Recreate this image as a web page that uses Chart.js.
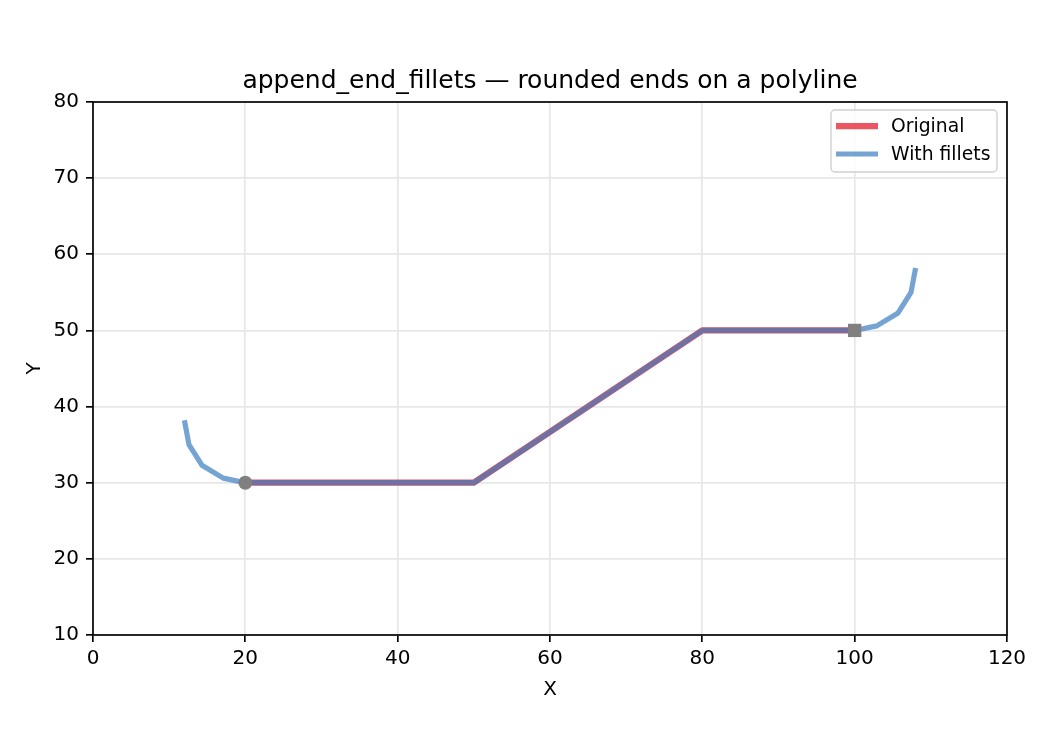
<!DOCTYPE html>
<html>
<head>
<meta charset="utf-8">
<script src="https://cdn.jsdelivr.net/npm/chart.js@4/dist/chart.umd.min.js"></script>
<style>
  html, body { margin: 0; padding: 0; background: #fff; }
  #wrap { width: 1050px; height: 750px; position: relative; }
</style>
</head>
<body>
<div id="wrap"><canvas id="c" width="1050" height="750"></canvas></div>
<script>
// ---- data ----
const originalX = [20, 50, 80, 100];
const originalY = [30, 30, 50, 50];
const filletX = [12, 12.6, 14.3, 17.1, 20, 50, 80, 100, 102.9, 105.7, 107.4, 108];
const filletY = [38.2, 35, 32.3, 30.6, 30, 30, 50, 50, 50.6, 52.3, 55, 58.2];
const startPoint = [20, 30];
const endPoint = [100, 50];
const xTicks = [0, 20, 40, 60, 80, 100, 120];
const yTicks = [10, 20, 30, 40, 50, 60, 70, 80];
const titleText = 'append_end_fillets — rounded ends on a polyline';
const xLabel = 'X';
const yLabel = 'Y';
const seriesNames = ['Original', 'With fillets'];

const RED = 'rgba(230,57,70,0.85)';
const BLUE = 'rgba(58,126,191,0.7)';
const FONT = 'DejaVu Sans';
const TICK_FONT = 20;

const toPts = (xs, ys) => xs.map((x, i) => ({ x: x, y: ys[i] }));

const framePlugin = {
  id: 'frame',
  afterDraw(chart) {
    const { ctx, chartArea: a } = chart;
    ctx.save();
    // frame
    ctx.strokeStyle = '#000';
    ctx.lineWidth = 1.67;
    ctx.strokeRect(a.left, a.top, a.right - a.left, a.bottom - a.top);
    // title
    ctx.fillStyle = '#000';
    ctx.font = '25px "' + FONT + '"';
    ctx.textAlign = 'center';
    ctx.textBaseline = 'alphabetic';
    ctx.fillText(titleText, (a.left + a.right) / 2, 88);
    // axis titles
    ctx.font = TICK_FONT + 'px "' + FONT + '"';
    ctx.fillText(xLabel, (a.left + a.right) / 2, 695);
    ctx.save();
    ctx.translate(40, (a.top + a.bottom) / 2);
    ctx.rotate(-Math.PI / 2);
    ctx.fillText(yLabel, 0, 0);
    ctx.restore();
    // legend
    const lx = 831, ly = 110, lw = 166, lh = 62, r = 4;
    ctx.beginPath();
    ctx.moveTo(lx + r, ly);
    ctx.arcTo(lx + lw, ly, lx + lw, ly + lh, r);
    ctx.arcTo(lx + lw, ly + lh, lx, ly + lh, r);
    ctx.arcTo(lx, ly + lh, lx, ly, r);
    ctx.arcTo(lx, ly, lx + lw, ly, r);
    ctx.closePath();
    ctx.fillStyle = 'rgba(255,255,255,0.8)';
    ctx.fill();
    ctx.strokeStyle = '#d0d0d0';
    ctx.lineWidth = 1.4;
    ctx.stroke();
    const rows = [
      { name: seriesNames[0], color: RED, w: 6.25, y: 126 },
      { name: seriesNames[1], color: BLUE, w: 5.2, y: 154 }
    ];
    ctx.font = '18.75px "' + FONT + '"';
    ctx.textAlign = 'left';
    ctx.textBaseline = 'middle';
    rows.forEach(rw => {
      ctx.strokeStyle = rw.color;
      ctx.lineWidth = rw.w;
      ctx.beginPath();
      ctx.moveTo(836, rw.y);
      ctx.lineTo(878, rw.y);
      ctx.stroke();
      ctx.fillStyle = '#000';
      ctx.fillText(rw.name, 891, rw.y + 1);
    });
    ctx.restore();
  }
};

new Chart(document.getElementById('c'), {
  type: 'scatter',
  data: {
    datasets: [
      {
        label: 'markers-start',
        data: [{ x: startPoint[0], y: startPoint[1] }],
        pointStyle: 'circle',
        pointRadius: 7,
        backgroundColor: '#808080',
        borderColor: '#808080',
        borderWidth: 0,
        showLine: false,
        order: 0
      },
      {
        label: 'markers-end',
        data: [{ x: endPoint[0], y: endPoint[1] }],
        pointStyle: 'rect',
        pointRadius: 9.4,
        backgroundColor: '#808080',
        borderColor: '#808080',
        borderWidth: 0,
        showLine: false,
        order: 0
      },
      {
        label: seriesNames[1],
        data: toPts(filletX, filletY),
        showLine: true,
        borderColor: BLUE,
        borderWidth: 5.2,
        pointRadius: 0,
        tension: 0,
        borderJoinStyle: 'round',
        order: 1
      },
      {
        label: seriesNames[0],
        data: toPts(originalX, originalY),
        showLine: true,
        borderColor: RED,
        borderWidth: 6.25,
        pointRadius: 0,
        tension: 0,
        borderJoinStyle: 'round',
        order: 2
      }
    ]
  },
  options: {
    responsive: false,
    animation: false,
    devicePixelRatio: 1,
    layout: { padding: { left: 0, top: 102, right: 43, bottom: 0 } },
    plugins: {
      legend: { display: false },
      title: { display: false },
      tooltip: { enabled: false }
    },
    scales: {
      x: {
        type: 'linear',
        min: 0, max: 120,
        afterFit: s => { s.height = 115; },
        afterBuildTicks: s => { s.ticks = xTicks.map(v => ({ value: v })); },
        grid: { color: '#e7e7e7', lineWidth: 1.67, tickLength: 7, tickColor: '#000', tickWidth: 1.67, drawTicks: true },
        border: { display: false },
        ticks: { color: '#000', font: { family: FONT, size: TICK_FONT }, padding: 5, maxRotation: 0 }
      },
      y: {
        type: 'linear',
        min: 10, max: 80,
        afterFit: s => { s.width = 93; },
        afterBuildTicks: s => { s.ticks = yTicks.map(v => ({ value: v })); },
        grid: { color: '#e7e7e7', lineWidth: 1.67, tickLength: 7, tickColor: '#000', tickWidth: 1.67, drawTicks: true },
        border: { display: false },
        ticks: { color: '#000', font: { family: FONT, size: TICK_FONT }, padding: 7 }
      }
    }
  },
  plugins: [framePlugin]
});
</script>
</body>
</html>
